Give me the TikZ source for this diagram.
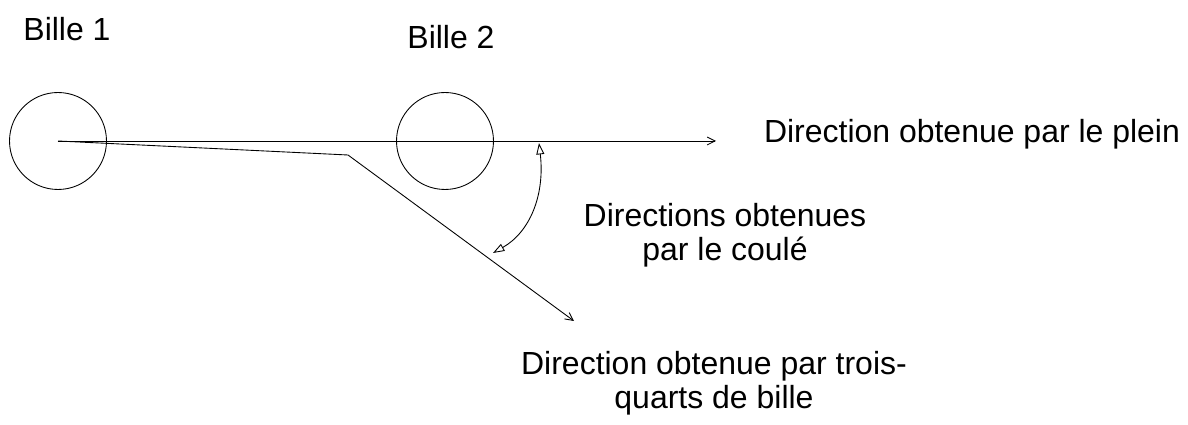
\documentclass[tikz,border=0pt]{standalone}
\usepackage{fontspec}
\setmainfont{Liberation Sans}
\usetikzlibrary{arrows.meta}

\tikzset{
  bille/.style={circle,draw,line width=.5pt,minimum size=1.94cm,inner sep=0pt},
  legende/.style={font=\fontsize{18.2}{19.5}\selectfont,align=center,inner sep=0pt,anchor=base},
  fleche/.style={-{Straight Barb[length=4.5pt,width=4.5pt]}},
  ouverte/.style={{Triangle[open,length=6.5pt,width=4.5pt]}-{Triangle[open,length=6.5pt,width=4.5pt]}}
}

\begin{document}
\begin{tikzpicture}[x=.02cm,y=-.02cm,line width=.5pt]
\useasboundingbox (0,0) rectangle (1188,425);

\node[bille] (bille1) at (58,141) {};
\node[bille] (bille2) at (445,141) {};
\coordinate (plein) at (716,141);
\coordinate (coin) at (348,155);
\coordinate (trois) at (574,321);
\coordinate (haut) at (539,143);
\coordinate (bas) at (493,253);

\draw[fleche] (bille1.center)--(plein);
\draw[fleche] (bille1.center)--(coin)--(trois);
\draw[ouverte] (haut) .. controls (545,195) and (530,232) .. (bas);

% textes
\node[legende] (nom1) at (67,41) {Bille 1};
\node[legende] (nom2) at (451,49) {Bille 2};
\node[legende] (txtplein) at (972,143) {Direction obtenue par le plein};
\node[legende] (txtcoule) at (725,261) {Directions obtenues\\par le coulé};
\node[legende] (txttrois) at (714,409) {Direction obtenue par trois-\\quarts de bille};
\end{tikzpicture}
\end{document}
